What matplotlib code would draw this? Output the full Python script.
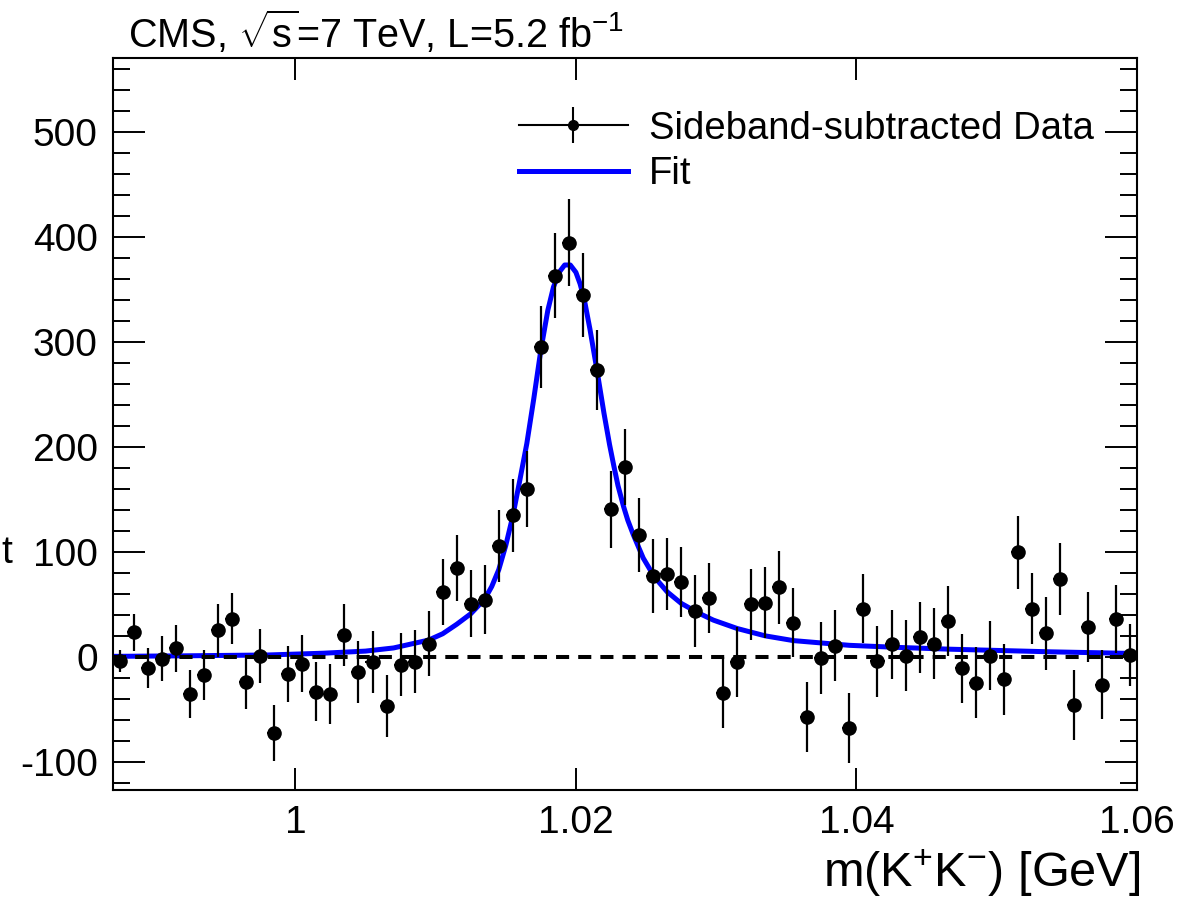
import numpy as np
import matplotlib
matplotlib.use('Agg')
import matplotlib.pyplot as plt
from matplotlib.lines import Line2D
from matplotlib.ticker import FixedLocator, FixedFormatter, MultipleLocator

plt.rcParams['font.family'] = ['Liberation Sans', 'DejaVu Sans']
plt.rcParams['mathtext.fontset'] = 'custom'
plt.rcParams['mathtext.rm'] = 'Liberation Sans'
plt.rcParams['mathtext.it'] = 'Liberation Sans:italic'
plt.rcParams['axes.unicode_minus'] = False

# sideband-subtracted K+K- mass spectrum, 1 MeV bins
mass = np.round(np.arange(0.9875, 1.0600, 0.001), 4)
counts = [-4, 23.5, -10.4, -1.6, 8, -35, -17.4, 25.4, 36.5, -23.8,
          0.7, -72.4, -16.5, -6.3, -33, -35.5, 21.3, -14.6, -5, -46.7,
          -7.3, -4.4, 12.7, 61.9, 84.8, 50.8, 54.6, 105.4, 134.6, 160,
          295, 362.9, 394.3, 344.2, 273, 140.4, 180.7, 115.9, 77, 79,
          71.2, 43.7, 55.6, -34.3, -4.8, 49.9, 51.4, 66.1, 32.7, -57.1,
          -0.9, 10.8, -67.6, 46, -4.3, 12.1, 1, 18.5, 12.7, 34.3,
          -11, -24.4, 1.3, -21.2, 99.4, 46, 22.3, 74, -46, 28.6,
          -26.3, 35.9, 1.6]
errors = [10.5, 17.5, 19.2, 21.3, 22.7, 22.9, 23.8, 25.1, 24.6, 25.7,
          25.6, 27, 26.8, 27, 27.9, 28.6, 29.5, 29.7, 29.4, 29.4,
          30.2, 29.8, 31, 31.4, 31.4, 32, 32.5, 34.1, 34.6, 36.2,
          38.6, 40.8, 41.6, 40, 38.4, 36.7, 36, 34.9, 35.2, 34.3,
          33.3, 34.1, 33.3, 33.8, 33.3, 33.8, 33.7, 34.9, 32.5, 33.3,
          34, 33.7, 33.2, 33, 33.7, 33, 33.7, 33.8, 34, 33.5,
          33, 34.1, 32.9, 33.7, 34.9, 34.1, 34.9, 34.1, 33.3, 33.3,
          32.7, 32.2, 29.7]

# fit curve
fit_mass = [0.987, 0.992, 0.998, 1.002, 1.005, 1.007, 1.0095, 1.0105, 1.0115,
            1.0125, 1.0135, 1.0140, 1.0145, 1.0150, 1.0155, 1.0160, 1.0165,
            1.0170, 1.0175, 1.0180, 1.0184, 1.0188, 1.0192, 1.0196, 1.0200,
            1.0203, 1.0206, 1.0210, 1.0215, 1.0220, 1.0224, 1.0227, 1.0230,
            1.0234, 1.0237, 1.0241, 1.0248, 1.0256, 1.0265, 1.0275, 1.0287,
            1.0298, 1.0315, 1.0335, 1.0355, 1.0395, 1.0430, 1.0467, 1.0539,
            1.0600]
fit_vals = [0.5, 1.0, 1.8, 3.5, 5.5, 8.5, 16, 22, 31,
            41, 55, 67, 83, 106, 134, 168, 203,
            246, 292, 330, 352, 366, 373, 373, 366,
            355, 340, 312, 273, 232, 202, 182, 163,
            143, 130, 116, 94, 76, 62, 51, 42,
            35, 27, 20, 15.5, 11, 9, 7.3, 4.8,
            3.2]

xticks = [1.0, 1.02, 1.04, 1.06]
xtick_labels = ['1', '1.02', '1.04', '1.06']
yticks = [-100, 0, 100, 200, 300, 400, 500]

W, H = 1186, 899
fig = plt.figure(figsize=(W / 100, H / 100), dpi=100)
ax = fig.add_axes([113 / W, 109 / H, 1024 / W, 732.5 / H])

ax.plot(fit_mass, fit_vals, color='#0000ff', lw=3.6, zorder=2,
        solid_joinstyle='round')
ax.axhline(0, color='k', lw=2.9, ls=(0, (3.25, 2.25)), zorder=3)
ax.errorbar(mass, counts, xerr=0.0005, fmt='none', ecolor='k',
            elinewidth=1.5, capsize=0, zorder=4)
ax.errorbar(mass, counts, yerr=errors, fmt='o', color='k', ms=10.5, mew=0,
            ecolor='k', elinewidth=1.6, capsize=3.4, capthick=1.6, zorder=5)

ax.set_xlim(0.987, 1.06)
ax.set_ylim(-126.7, 570.5)
ax.xaxis.set_major_locator(FixedLocator(xticks))
ax.xaxis.set_major_formatter(FixedFormatter(xtick_labels))
ax.yaxis.set_major_locator(FixedLocator(yticks))
ax.yaxis.set_minor_locator(MultipleLocator(20))

for s in ax.spines.values():
    s.set_linewidth(1.5)
ax.tick_params(which='both', direction='in', top=True, right=True, width=1.4)
ax.tick_params(axis='y', which='major', length=23, pad=11, labelsize=28)
ax.tick_params(axis='y', which='minor', length=12)
ax.tick_params(axis='x', which='major', length=16, pad=11, labelsize=28)

# labels
fig.text(128 / W, 1 - 48 / H, r'CMS, $\sqrt{\mathrm{s}}$=7 TeV, L=5.2 fb$^{\mathrm{-1}}$',
         fontsize=28.5, ha='left', va='baseline')
fig.text(1140 / W, 1 - 887 / H, r'm(K$^{+}$K$^{-}$) [GeV]',
         fontsize=35, ha='right', va='baseline')
# the left axis title is mostly cut off in the original, only its last letter shows
fig.text(1 / W, 1 - 553 / H, 't', fontsize=28, ha='left', va='center')

h_data = (Line2D([], [], color='k', lw=1.5),
          Line2D([], [], ls='none', marker='|', ms=26, mew=1.5, color='k'),
          Line2D([], [], ls='none', marker='o', ms=7, color='k'))
h_fit = Line2D([], [], color='#0000ff', lw=3.6)
ax.legend([h_data, h_fit], ['Sideband-subtracted Data', 'Fit'],
          loc='center left', bbox_to_anchor=(519 / W, 1 - 151.5 / H),
          bbox_transform=fig.transFigure, frameon=False, fontsize=27.5,
          handlelength=2.85, handletextpad=0.55, labelspacing=0.26,
          borderpad=0, borderaxespad=0)

fig.savefig('out.png', dpi=100)
